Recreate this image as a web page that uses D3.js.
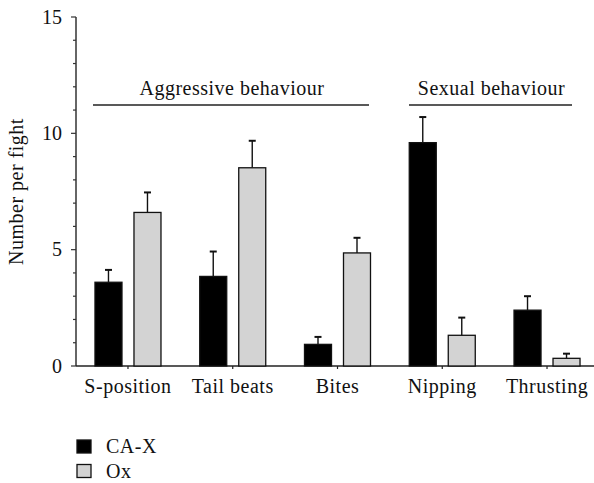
<!DOCTYPE html>
<html>
<head>
<meta charset="utf-8">
<script src="https://cdn.jsdelivr.net/npm/d3@7"></script>
<style>
  html, body { margin: 0; padding: 0; background: #fff; }
  svg { display: block; }
  text { font-family: "Liberation Serif", "Times New Roman", serif; fill: #111; }
</style>
</head>
<body>
<svg id="chart" width="594" height="483"></svg>
<script>
// ---- data ----
const categories = ["S-position", "Tail beats", "Bites", "Nipping", "Thrusting"];
const seriesNames = ["CA-X", "Ox"];
const caxValues = [3.6, 3.85, 0.93, 9.6, 2.4];
const caxErrors = [0.53, 1.07, 0.32, 1.1, 0.6];
const oxValues = [6.6, 8.52, 4.86, 1.32, 0.33];
const oxErrors = [0.86, 1.16, 0.65, 0.76, 0.2];
const yTickValues = [0, 5, 10, 15];
const groupLabels = ["Aggressive behaviour", "Sexual behaviour"];

const colors = { "CA-X": "#000000", "Ox": "#d3d3d3" };

const svg = d3.select("#chart");
const x0 = d3.scaleBand().domain(categories).range([75.6, 599.4]).padding(0);
const bw = x0.bandwidth();
const x1 = d3.scaleBand().domain(seriesNames).range([bw / 2 - 33, bw / 2 + 33])
  .paddingInner(12 / 39).paddingOuter(0);
const y = d3.scaleLinear().domain([0, 15]).range([366, 17]);

// y axis
const yAxisG = svg.append("g").attr("transform", "translate(76,0)");
yAxisG.append("line").attr("x1", 0).attr("x2", 0).attr("y1", y(0)).attr("y2", y(15))
  .attr("stroke", "#333").attr("stroke-width", 1.5);
d3.range(0, 16).forEach(v => {
  const major = v % 5 === 0;
  yAxisG.append("line").attr("x1", major ? -5 : -3).attr("x2", 0)
    .attr("y1", y(v)).attr("y2", y(v)).attr("stroke", "#333").attr("stroke-width", 1.2);
});
yAxisG.selectAll("text.yt").data(yTickValues).join("text").attr("class", "yt")
  .attr("x", -14).attr("y", d => y(d)).attr("dy", "0.34em")
  .attr("text-anchor", "end").style("font-size", "20px")
  .text(d => d);

// x axis
svg.append("line").attr("x1", 76).attr("x2", 594).attr("y1", y(0)).attr("y2", y(0))
  .attr("stroke", "#222").attr("stroke-width", 1.5);
svg.selectAll("line.xt").data(categories).join("line").attr("class", "xt")
  .attr("x1", d => x0(d) + bw / 2).attr("x2", d => x0(d) + bw / 2)
  .attr("y1", y(0)).attr("y2", y(0) + 3).attr("stroke", "#222").attr("stroke-width", 1.2);
svg.selectAll("text.xl").data(categories).join("text").attr("class", "xl")
  .attr("x", d => x0(d) + bw / 2).attr("y", 393)
  .attr("text-anchor", "middle").style("font-size", "20px").style("letter-spacing", "0.5px")
  .text(d => d);

// y label
svg.append("text").attr("transform", `translate(23,${(y(0) + y(15)) / 2}) rotate(-90)`)
  .attr("text-anchor", "middle").style("font-size", "20px").style("letter-spacing", "0.5px")
  .text("Number per fight");

// bars
const rows = categories.map((c, i) => ({
  cat: c,
  items: [
    { s: "CA-X", v: caxValues[i], e: caxErrors[i] },
    { s: "Ox", v: oxValues[i], e: oxErrors[i] }
  ]
}));
const groups = svg.selectAll("g.grp").data(rows).join("g").attr("class", "grp")
  .attr("transform", d => `translate(${x0(d.cat)},0)`);

groups.selectAll("g.err").data(d => d.items).join("g").attr("class", "err")
  .each(function(d) {
    const g = d3.select(this);
    const cx = x1(d.s) + x1.bandwidth() / 2;
    g.append("line").attr("x1", cx).attr("x2", cx).attr("y1", y(d.v)).attr("y2", y(d.v + d.e))
      .attr("stroke", "#111").attr("stroke-width", 1.4);
    g.append("line").attr("x1", cx - 3.5).attr("x2", cx + 3.5).attr("y1", y(d.v + d.e)).attr("y2", y(d.v + d.e))
      .attr("stroke", "#111").attr("stroke-width", 2);
  });

groups.selectAll("rect").data(d => d.items).join("rect")
  .attr("x", d => x1(d.s)).attr("width", x1.bandwidth())
  .attr("y", d => y(d.v)).attr("height", d => y(0) - y(d.v))
  .attr("fill", d => colors[d.s]).attr("stroke", "#111").attr("stroke-width", 1.3);

// group brackets
const bracketX = [[93, 369], [409, 572]];
groupLabels.forEach((lab, i) => {
  const [a, b] = bracketX[i];
  svg.append("line").attr("x1", a).attr("x2", b).attr("y1", 105).attr("y2", 105)
    .attr("stroke", "#222").attr("stroke-width", 1.5);
  svg.append("text").attr("x", (a + b) / 2 + 1).attr("y", 95).attr("text-anchor", "middle")
    .style("font-size", "20px").style("letter-spacing", "0.5px").text(lab);
});

// legend
const leg = svg.append("g");
seriesNames.forEach((s, i) => {
  const ly = 440 + i * 24.5;
  leg.append("rect").attr("x", 77).attr("y", ly).attr("width", 14).attr("height", 13)
    .attr("fill", colors[s]).attr("stroke", "#111").attr("stroke-width", 1.3);
  leg.append("text").attr("x", 106).attr("y", ly + 13).style("font-size", "20px")
    .style("letter-spacing", "0.5px").text(s);
});
</script>
</body>
</html>
